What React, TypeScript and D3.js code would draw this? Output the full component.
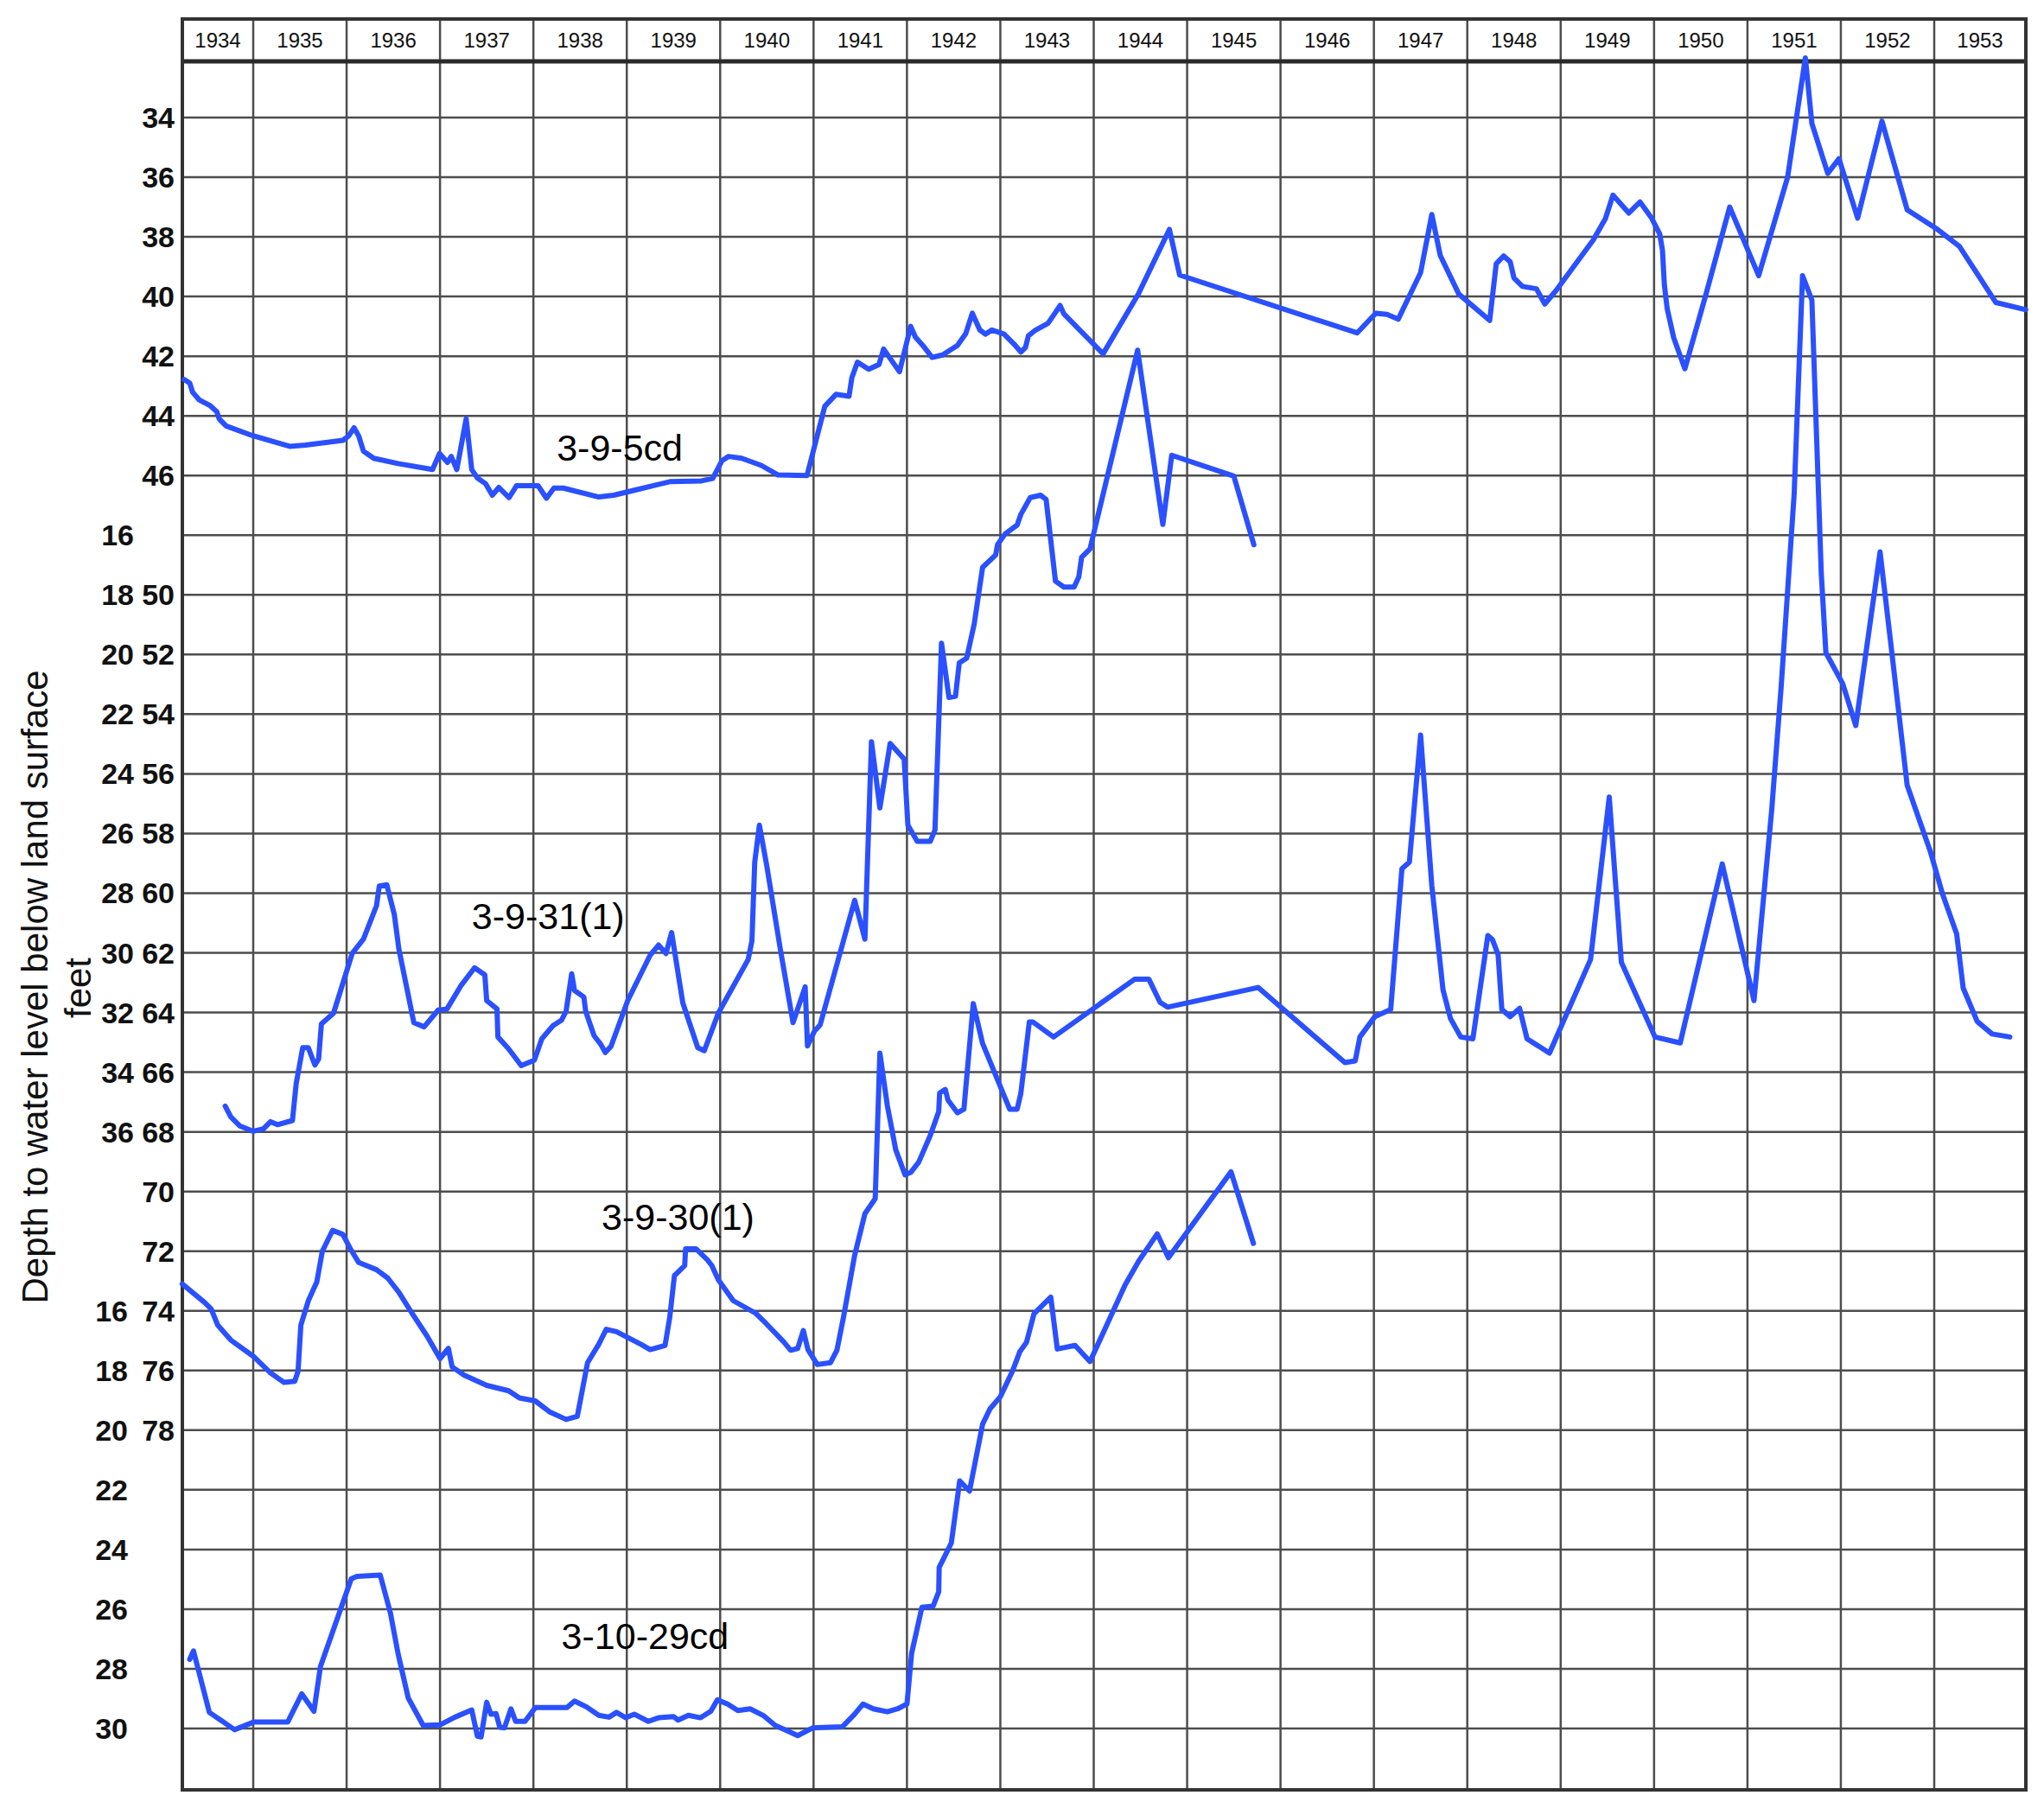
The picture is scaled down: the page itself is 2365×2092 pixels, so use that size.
import React from "react";
import * as d3 from "d3";

// ---------- DATA ----------
const years = d3.range(1934, 1954);

// scale A (right column of labels): 34..46, 50..78
const ticksA = [34, 36, 38, 40, 42, 44, 46, 50, 52, 54, 56, 58, 60, 62, 64, 66, 68, 70, 72, 74, 76, 78];
// scale B (left column, upper): 16..36
const ticksB = [16, 18, 20, 22, 24, 26, 28, 30, 32, 34, 36];
// scale C (left column, lower): 16..30
const ticksC = [16, 18, 20, 22, 24, 26, 28, 30];

// well 3-9-5cd (scale A) [year, depth ft]
const well_3_9_5cd: [number, number][] = [
  [1934.26, 42.78], [1934.32, 42.9], [1934.35, 43.2], [1934.42, 43.46], [1934.54, 43.66], [1934.61, 43.86],
  [1934.635, 44.1], [1934.71, 44.34], [1934.99, 44.66], [1935.39, 45.02], [1935.56, 44.98], [1935.96, 44.82],
  [1936.02, 44.68], [1936.08, 44.4], [1936.13, 44.68], [1936.18, 45.18], [1936.29, 45.42], [1936.55, 45.6],
  [1936.92, 45.8], [1936.995, 45.26], [1937.08, 45.56], [1937.12, 45.36], [1937.18, 45.8], [1937.28, 44.1],
  [1937.34, 45.8], [1937.4, 46.08], [1937.49, 46.28], [1937.56, 46.66], [1937.63, 46.4], [1937.74, 46.74],
  [1937.82, 46.34], [1938.05, 46.34], [1938.14, 46.76], [1938.22, 46.42], [1938.32, 46.42], [1938.7, 46.72],
  [1938.86, 46.66], [1939.1, 46.48], [1939.47, 46.2], [1939.8, 46.18], [1939.92, 46.1], [1940.02, 45.5],
  [1940.09, 45.36], [1940.23, 45.42], [1940.44, 45.66], [1940.62, 45.98], [1940.93, 46.0], [1941.12, 43.68],
  [1941.24, 43.28], [1941.38, 43.34], [1941.41, 42.72], [1941.47, 42.2], [1941.59, 42.44], [1941.7, 42.28],
  [1941.75, 41.76], [1941.92, 42.52], [1942.04, 41.0], [1942.09, 41.36], [1942.17, 41.64], [1942.27, 42.04],
  [1942.38, 41.96], [1942.54, 41.64], [1942.63, 41.24], [1942.7, 40.56], [1942.78, 41.12], [1942.84, 41.26],
  [1942.91, 41.12], [1943.04, 41.26], [1943.16, 41.64], [1943.22, 41.86], [1943.27, 41.7], [1943.3, 41.32],
  [1943.37, 41.14], [1943.51, 40.9], [1943.58, 40.58], [1943.64, 40.3], [1943.68, 40.58], [1944.1, 41.92],
  [1944.48, 39.9], [1944.81, 37.75], [1944.92, 39.28], [1946.82, 41.22], [1947.02, 40.56], [1947.14, 40.6],
  [1947.26, 40.76], [1947.5, 39.2], [1947.62, 37.25], [1947.71, 38.62], [1947.91, 39.92], [1948.24, 40.8],
  [1948.31, 38.9], [1948.39, 38.64], [1948.46, 38.84], [1948.5, 39.38], [1948.59, 39.66], [1948.74, 39.74],
  [1948.83, 40.25], [1948.95, 39.8], [1949.35, 38.1], [1949.48, 37.38], [1949.56, 36.6], [1949.73, 37.2],
  [1949.85, 36.83], [1949.97, 37.35], [1950.06, 37.9], [1950.09, 38.45], [1950.11, 39.6], [1950.14, 40.4],
  [1950.21, 41.38], [1950.33, 42.42], [1950.54, 40.1], [1950.81, 37.0], [1951.12, 39.3], [1951.43, 36.0],
  [1951.62, 32.0], [1951.69, 34.2], [1951.86, 35.87], [1951.98, 35.38], [1952.18, 37.37], [1952.44, 34.12],
  [1952.71, 37.09], [1953.04, 37.76], [1953.27, 38.32], [1953.66, 40.2], [1953.98, 40.44],
];

// well 3-9-31(1) (scale B)
const well_3_9_31: [number, number][] = [
  [1934.7, 35.14], [1934.76, 35.5], [1934.855, 35.8], [1935.0, 35.98], [1935.11, 35.9], [1935.185, 35.66],
  [1935.26, 35.76], [1935.42, 35.62], [1935.46, 34.38], [1935.53, 33.18], [1935.59, 33.18], [1935.66, 33.76],
  [1935.7, 33.56], [1935.73, 32.38], [1935.86, 32.02], [1936.06, 30.02], [1936.18, 29.54], [1936.32, 28.42],
  [1936.35, 27.76], [1936.43, 27.72], [1936.51, 28.7], [1936.56, 29.88], [1936.72, 32.34], [1936.83, 32.48],
  [1936.98, 31.92], [1937.075, 31.88], [1937.22, 31.12], [1937.37, 30.5], [1937.48, 30.74], [1937.5, 31.6],
  [1937.61, 31.88], [1937.62, 32.82], [1937.73, 33.2], [1937.87, 33.78], [1938.01, 33.6], [1938.09, 32.88],
  [1938.21, 32.44], [1938.3, 32.26], [1938.35, 31.96], [1938.41, 30.7], [1938.44, 31.26], [1938.54, 31.48],
  [1938.56, 31.96], [1938.65, 32.78], [1938.72, 33.06], [1938.77, 33.34], [1938.83, 33.14], [1939.01, 31.6],
  [1939.25, 30.08], [1939.34, 29.74], [1939.42, 30.02], [1939.48, 29.32], [1939.6, 31.68], [1939.76, 33.18],
  [1939.83, 33.28], [1939.98, 32.02], [1940.3, 30.22], [1940.34, 29.6], [1940.37, 26.96], [1940.42, 25.72],
  [1940.5, 27.1], [1940.64, 29.8], [1940.78, 32.34], [1940.91, 31.14], [1940.935, 33.12], [1941.01, 32.62],
  [1941.07, 32.42], [1941.44, 28.24], [1941.55, 29.54], [1941.62, 22.92], [1941.71, 25.14], [1941.82, 22.98],
  [1941.97, 23.5], [1942.01, 25.72], [1942.11, 26.26], [1942.25, 26.26], [1942.3, 25.88], [1942.37, 19.62],
  [1942.45, 21.44], [1942.52, 21.4], [1942.56, 20.28], [1942.64, 20.12], [1942.72, 18.98], [1942.81, 17.08],
  [1942.95, 16.66], [1942.97, 16.32], [1943.05, 15.96], [1943.18, 15.66], [1943.22, 15.3], [1943.32, 14.74],
  [1943.43, 14.66], [1943.49, 14.8], [1943.59, 17.54], [1943.68, 17.74], [1943.79, 17.74], [1943.84, 17.4],
  [1943.87, 16.74], [1943.96, 16.46], [1944.47, 9.8], [1944.74, 15.64], [1944.835, 13.32], [1945.5, 14.02],
  [1945.715, 16.32],
];

// well 3-9-30(1) (scale A)
const well_3_9_30: [number, number][] = [
  [1934.24, 73.1], [1934.48, 73.72], [1934.55, 73.94], [1934.62, 74.48], [1934.76, 74.98], [1935.0, 75.52],
  [1935.185, 76.08], [1935.33, 76.4], [1935.445, 76.36], [1935.48, 76.02], [1935.51, 74.48], [1935.59, 73.66],
  [1935.68, 73.04], [1935.74, 72.0], [1935.85, 71.3], [1935.96, 71.44], [1936.04, 71.92], [1936.13, 72.38],
  [1936.32, 72.62], [1936.44, 72.9], [1936.56, 73.38], [1936.7, 74.08], [1936.86, 74.84], [1937.0, 75.6],
  [1937.09, 75.26], [1937.13, 75.88], [1937.26, 76.16], [1937.5, 76.5], [1937.735, 76.68], [1937.85, 76.92],
  [1938.02, 77.02], [1938.18, 77.4], [1938.35, 77.64], [1938.47, 77.54], [1938.58, 75.74], [1938.7, 75.12],
  [1938.78, 74.62], [1938.89, 74.7], [1939.15, 75.12], [1939.25, 75.3], [1939.41, 75.16], [1939.46, 74.22],
  [1939.51, 72.82], [1939.62, 72.48], [1939.63, 71.92], [1939.74, 71.92], [1939.86, 72.28], [1939.91, 72.48],
  [1939.98, 72.96], [1940.14, 73.66], [1940.38, 74.08], [1940.49, 74.42], [1940.68, 75.04], [1940.755, 75.32],
  [1940.83, 75.26], [1940.89, 74.66], [1940.94, 75.3], [1941.04, 75.8], [1941.18, 75.74], [1941.25, 75.32],
  [1941.32, 74.22], [1941.44, 72.14], [1941.55, 70.74], [1941.66, 70.24], [1941.71, 65.36], [1941.79, 67.12],
  [1941.88, 68.6], [1941.98, 69.44], [1942.04, 69.36], [1942.125, 69.02], [1942.25, 68.12], [1942.34, 67.32],
  [1942.35, 66.7], [1942.41, 66.58], [1942.44, 66.94], [1942.54, 67.36], [1942.61, 67.24], [1942.71, 63.7],
  [1942.81, 65.04], [1943.05, 66.86], [1943.1, 67.24], [1943.18, 67.24], [1943.22, 66.7], [1943.31, 64.32],
  [1943.35, 64.32], [1943.57, 64.82], [1944.44, 62.88], [1944.59, 62.88], [1944.71, 63.66], [1944.79, 63.82],
  [1945.76, 63.16], [1946.69, 65.68], [1946.8, 65.62], [1946.85, 64.82], [1947.01, 64.14], [1947.18, 63.9],
  [1947.3, 59.18], [1947.38, 58.96], [1947.5, 54.7], [1947.62, 59.74], [1947.74, 63.24], [1947.82, 64.2],
  [1947.93, 64.82], [1948.06, 64.88], [1948.22, 61.42], [1948.27, 61.56], [1948.33, 62.06], [1948.37, 63.9],
  [1948.46, 64.14], [1948.56, 63.86], [1948.64, 64.88], [1948.88, 65.36], [1949.32, 62.22], [1949.52, 56.78],
  [1949.65, 62.32], [1950.01, 64.82], [1950.28, 65.02], [1950.73, 59.02], [1951.07, 63.6], [1951.26, 57.2],
  [1951.36, 53.12], [1951.5, 46.62], [1951.59, 39.3], [1951.69, 40.12], [1951.79, 49.26], [1951.84, 51.94],
  [1952.02, 52.98], [1952.16, 54.38], [1952.42, 48.56], [1952.53, 51.5], [1952.71, 56.38], [1952.96, 58.62],
  [1953.09, 60.04], [1953.24, 61.36], [1953.31, 63.18], [1953.46, 64.3], [1953.62, 64.72], [1953.81, 64.82],
];

// well 3-10-29cd (scale C)
const well_3_10_29cd: [number, number][] = [
  [1934.32, 27.68], [1934.36, 27.4], [1934.53, 29.46], [1934.8, 30.04], [1935.01, 29.78], [1935.37, 29.78],
  [1935.52, 28.84], [1935.65, 29.42], [1935.72, 27.92], [1936.05, 24.98], [1936.11, 24.9], [1936.36, 24.86],
  [1936.47, 26.14], [1936.55, 27.48], [1936.66, 28.98], [1936.82, 29.9], [1937.0, 29.88], [1937.16, 29.62],
  [1937.34, 29.38], [1937.4, 30.26], [1937.44, 30.28], [1937.5, 29.12], [1937.545, 29.52], [1937.6, 29.5],
  [1937.64, 29.96], [1937.69, 29.98], [1937.76, 29.34], [1937.81, 29.76], [1937.91, 29.76], [1938.02, 29.3],
  [1938.36, 29.3], [1938.44, 29.08], [1938.57, 29.28], [1938.7, 29.56], [1938.81, 29.62], [1938.89, 29.46],
  [1938.99, 29.64], [1939.08, 29.52], [1939.23, 29.76], [1939.34, 29.64], [1939.5, 29.6], [1939.55, 29.72],
  [1939.66, 29.56], [1939.79, 29.64], [1939.9, 29.42], [1939.97, 29.04], [1940.08, 29.18], [1940.19, 29.4],
  [1940.32, 29.34], [1940.46, 29.56], [1940.59, 29.9], [1940.72, 30.08], [1940.83, 30.24], [1940.99, 29.98],
  [1941.31, 29.94], [1941.44, 29.52], [1941.53, 29.18], [1941.64, 29.34], [1941.79, 29.44], [1941.9, 29.34],
  [1942.0, 29.18], [1942.05, 27.48], [1942.16, 25.94], [1942.28, 25.9], [1942.34, 25.42], [1942.345, 24.6],
  [1942.475, 23.78], [1942.565, 21.7], [1942.67, 22.04], [1942.81, 19.8], [1942.89, 19.28], [1943.0, 18.88],
  [1943.13, 18.02], [1943.21, 17.36], [1943.28, 17.06], [1943.36, 16.1], [1943.54, 15.54], [1943.61, 17.28],
  [1943.8, 17.16], [1943.96, 17.7], [1944.335, 15.14], [1944.48, 14.34], [1944.68, 13.42], [1944.8, 14.22],
  [1945.47, 11.34], [1945.71, 13.74],
];

// series labels: [text, year, depth, scale]
const seriesLabels: [string, number, number, string][] = [
  ["3-9-5cd", 1938.25, 45.5, "A"],
  ["3-9-31(1)", 1937.34, 29.2, "B"],
  ["3-9-30(1)", 1938.73, 71.28, "A"],
  ["3-10-29cd", 1938.3, 27.34, "C"],
];

const yTitle = "Depth to water level below land surface";
const yUnit = "feet";

// ---------- LAYOUT ----------
const W = 2365;
const H = 2092;
const left = 211;
const right = 2344;
const top = 22;
const headerBottom = 71;
const bottom = 2071;
const LINE = "#2a50ff";
const GRID = "#4d4d4d";
const FONT = "'Liberation Sans', Arial, Helvetica, sans-serif";

export default function App() {
  const x = d3.scaleLinear().domain([1935, 1953]).range([293, 2238]);
  const row = d3.scaleLinear().domain([0, 27]).range([136, 2000]);
  const sA = d3.scaleLinear().domain([34, 78]).range([row(0), row(22)]);
  const sB = d3.scaleLinear().domain([16, 36]).range([row(7), row(17)]);
  const sC = d3.scaleLinear().domain([16, 30]).range([row(20), row(27)]);
  const scales: Record<string, d3.ScaleLinear<number, number>> = { A: sA, B: sB, C: sC };

  const mk = (s: d3.ScaleLinear<number, number>) =>
    d3.line<[number, number]>().x((d) => x(d[0])).y((d) => s(d[1]));

  const series: [[number, number][], d3.ScaleLinear<number, number>][] = [
    [well_3_9_5cd, sA],
    [well_3_9_31, sB],
    [well_3_9_30, sA],
    [well_3_10_29cd, sC],
  ];

  const boundaries = d3.range(1935, 1954);

  return (
    <svg
      width={W}
      height={H}
      style={{ position: "absolute", left: 0, top: 0, background: "#fff" }}
      fontFamily={FONT}
    >
      <rect x={0} y={0} width={W} height={H} fill="#fff" />
      {/* horizontal grid */}
      {d3.range(28).map((r) => (
        <line key={"h" + r} x1={left} x2={right} y1={row(r)} y2={row(r)} stroke={GRID} strokeWidth={2.5} />
      ))}
      {/* vertical grid */}
      {boundaries.map((b) => (
        <line key={"v" + b} x1={x(b)} x2={x(b)} y1={top} y2={bottom} stroke={GRID} strokeWidth={2.5} />
      ))}
      {/* header bottom */}
      <line x1={left} x2={right} y1={headerBottom} y2={headerBottom} stroke="#2a2a2a" strokeWidth={5} />
      {/* frame */}
      <rect x={left} y={top} width={right - left} height={bottom - top} fill="none" stroke="#333" strokeWidth={4} />

      {/* year labels */}
      {years.map((yr) => {
        const x0 = Math.max(left, x(yr));
        const x1 = Math.min(right, x(yr + 1));
        return (
          <text key={"y" + yr} x={(x0 + x1) / 2} y={55} fontSize={24} textAnchor="middle" fill="#111">
            {yr}
          </text>
        );
      })}

      {/* depth tick labels */}
      {ticksA.map((t) => (
        <text key={"a" + t} x={202} y={sA(t) + 12} fontSize={34} fontWeight="bold" textAnchor="end" fill="#111">
          {t}
        </text>
      ))}
      {ticksB.map((t) => (
        <text key={"b" + t} x={155} y={sB(t) + 12} fontSize={34} fontWeight="bold" textAnchor="end" fill="#111">
          {t}
        </text>
      ))}
      {ticksC.map((t) => (
        <text key={"c" + t} x={148} y={sC(t) + 12} fontSize={34} fontWeight="bold" textAnchor="end" fill="#111">
          {t}
        </text>
      ))}

      {/* axis title */}
      <text transform="translate(55,1142) rotate(-90)" fontSize={42} textAnchor="middle" fill="#111">
        {yTitle}
      </text>
      <text transform="translate(105,1143) rotate(-90)" fontSize={42} textAnchor="middle" fill="#111">
        {yUnit}
      </text>

      {/* series */}
      {series.map(([data, s], i) => (
        <path
          key={"s" + i}
          d={mk(s)(data) || ""}
          fill="none"
          stroke={LINE}
          strokeWidth={6}
          strokeLinejoin="round"
          strokeLinecap="round"
        />
      ))}

      {/* series labels */}
      {seriesLabels.map(([txt, yr, dep, sc]) => (
        <text key={txt} x={x(yr)} y={scales[sc](dep)} fontSize={43} fill="#000">
          {txt}
        </text>
      ))}
    </svg>
  );
}
